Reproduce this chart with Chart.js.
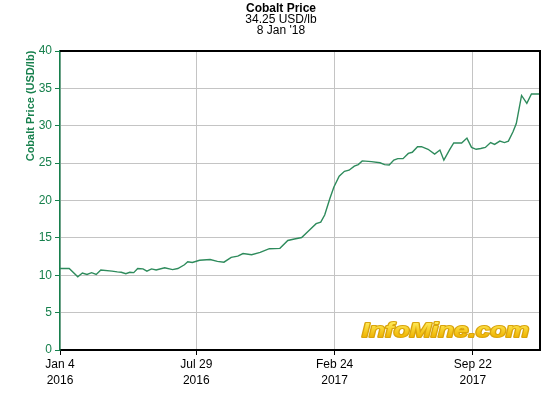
<!DOCTYPE html>
<html>
<head>
<meta charset="utf-8">
<script src="https://cdn.jsdelivr.net/npm/chart.js@4.4.1/dist/chart.umd.min.js"></script>
<style>
  html, body { margin: 0; padding: 0; background: #fff; }
  #wrap { width: 560px; height: 400px; }
</style>
</head>
<body>
<div id="wrap"><canvas id="c" width="560" height="400"></canvas></div>
<script>
// days since Jan 4 2016 and the price
var days = [0, 14, 27, 34, 41, 48, 55, 62, 79, 87, 93, 100, 106, 112, 118, 126, 132, 139, 146, 159,
    171, 179, 189, 194, 201, 212, 228, 239, 249, 260, 270, 278, 291, 304, 318, 334, 346, 356, 367, 377,
    389, 396, 402, 410, 416, 424, 432, 439, 447, 453, 459, 473, 486, 493, 500, 507, 513, 521, 529, 535,
    543, 549, 559, 569, 577, 583, 592, 598, 610, 618, 625, 632, 639, 646, 654, 660, 668, 675, 681, 688,
    693, 701, 709, 716, 729];
var prices = [10.9, 10.9, 9.8, 10.3, 10.1, 10.35, 10.1, 10.7, 10.55, 10.45, 10.4, 10.2, 10.4, 10.35, 10.9, 10.85, 10.55, 10.85, 10.7, 11.0,
    10.75, 10.9, 11.4, 11.8, 11.7, 12.0, 12.1, 11.85, 11.75, 12.4, 12.55, 12.9, 12.75, 13.05, 13.55, 13.6, 14.65, 14.85, 15.05, 15.9,
    16.9, 17.1, 18.05, 20.3, 21.8, 23.25, 23.9, 24.05, 24.6, 24.8, 25.3, 25.2, 25.05, 24.8, 24.75, 25.4, 25.6, 25.6, 26.3, 26.45,
    27.2, 27.2, 26.85, 26.2, 26.75, 25.4, 26.85, 27.7, 27.7, 28.35, 27.1, 26.85, 26.95, 27.1, 27.75, 27.5, 27.95, 27.75, 27.95, 29.2,
    30.3, 34.05, 33.0, 34.25, 34.25];

var tickDays = [0, 207, 417, 627];
var tickLabels = [["Jan 4", "2016"], ["Jul 29", "2016"], ["Feb 24", "2017"], ["Sep 22", "2017"]];
var titleLines = ["Cobalt Price", "34.25 USD/lb", "8 Jan '18"];
var yTitle = "Cobalt Price (USD/lb)";

var green = "#17804d";
var lineGreen = "#2e8b5c";
var gridGray = "#c4c4c4";
var font = "'Liberation Sans', Arial, sans-serif";

var decor = {
    id: "decor",
    beforeDatasetsDraw: function (chart) {
        // watermark sits under the line
        var ctx = chart.ctx;
        ctx.save();
        ctx.font = "italic bold 22px " + font;
        var w = ctx.measureText("InfoMine.com").width;
        ctx.translate(362, 337);
        ctx.scale(167 / w, 0.88);
        var g = ctx.createLinearGradient(0, -17, 0, 0);
        g.addColorStop(0, "#ffec5a");
        g.addColorStop(1, "#f0b400");
        ctx.lineJoin = "round";
        ctx.lineWidth = 2.4;
        ctx.strokeStyle = "#d9a40c";
        ctx.textBaseline = "alphabetic";
        ctx.strokeText("InfoMine.com", 0, 0);
        ctx.fillStyle = g;
        ctx.fillText("InfoMine.com", 0, 0);
        ctx.restore();
    },
    afterDraw: function (chart) {
        var ctx = chart.ctx;
        var a = chart.chartArea;
        ctx.save();
        // top and right frame
        ctx.strokeStyle = "#000";
        ctx.lineWidth = 2;
        ctx.beginPath();
        ctx.moveTo(a.left, a.top);
        ctx.lineTo(a.right, a.top);
        ctx.lineTo(a.right, a.bottom);
        ctx.stroke();
        // titles
        ctx.fillStyle = "#000";
        ctx.textAlign = "center";
        ctx.textBaseline = "middle";
        ctx.font = "bold 12px " + font;
        ctx.fillText(titleLines[0], 281, 9);
        ctx.font = "12px " + font;
        ctx.fillText(titleLines[1], 281, 20);
        ctx.fillText(titleLines[2], 281, 31);
        // y axis title
        ctx.translate(31, 106);
        ctx.rotate(-Math.PI / 2);
        ctx.fillStyle = green;
        ctx.font = "bold 11px " + font;
        ctx.fillText(yTitle, 0, 0);
        ctx.restore();
    }
};

var chart = new Chart(document.getElementById("c").getContext("2d"), {
    type: "line",
    data: {
        datasets: [{
            data: days.map(function (d, i) { return { x: d, y: prices[i] }; }),
            borderColor: lineGreen,
            borderWidth: 1.4,
            pointRadius: 0,
            tension: 0,
            fill: false
        }]
    },
    options: {
        responsive: false,
        animation: false,
        layout: { padding: { top: 51, right: 20, left: 0, bottom: 0 } },
        plugins: { legend: { display: false }, tooltip: { enabled: false } },
        scales: {
            x: {
                type: "linear",
                min: 0,
                max: 729,
                afterBuildTicks: function (scale) {
                    scale.ticks = tickDays.map(function (v) { return { value: v }; });
                },
                afterFit: function (scale) { scale.height = 50; },
                ticks: {
                    autoSkip: false,
                    maxRotation: 0,
                    padding: 2,
                    color: "#000",
                    font: { family: font, size: 12, lineHeight: 1.3 },
                    callback: function (v) {
                        var i = tickDays.indexOf(v);
                        return i >= 0 ? tickLabels[i] : "";
                    }
                },
                grid: { color: gridGray, tickColor: "#000", tickLength: 5 },
                border: { color: "#000", width: 2 }
            },
            y: {
                min: 0,
                max: 40,
                afterFit: function (scale) { scale.width = 60; },
                ticks: {
                    stepSize: 5,
                    padding: 3,
                    color: green,
                    font: { family: font, size: 12 }
                },
                grid: { color: gridGray, tickColor: green, tickLength: 5 },
                border: { color: green, width: 1.5 }
            }
        }
    },
    plugins: [decor]
});
</script>
</body>
</html>
